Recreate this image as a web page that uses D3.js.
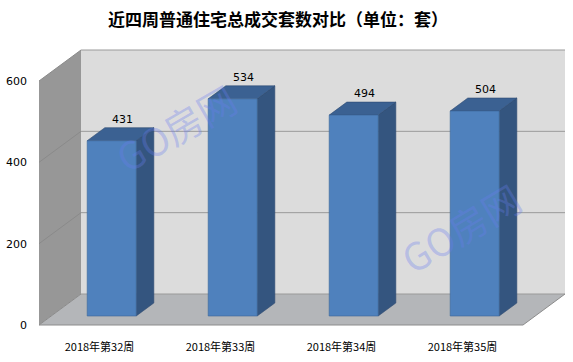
<!DOCTYPE html>
<html>
<head>
<meta charset="utf-8">
<script src="https://cdn.jsdelivr.net/npm/d3@7"></script>
<style>
  body { margin: 0; background: #fff; }
  svg { display: block; }
</style>
</head>
<body>
<svg id="chart"></svg>
<script>
////////////
// DATA
////////////
const weeks = ["2018年第32周", "2018年第33周", "2018年第34周", "2018年第35周"];
const deals = [431, 534, 494, 504];
const yTicks = [0, 200, 400, 600];
const chartTitle = "近四周普通住宅总成交套数对比（单位：套）";

///// Settings
const width = 573, height = 362;
const svg = d3.select("#chart").attr("width", width).attr("height", height);

// back wall of the 3d box, depth vector goes from back to front
const back = { left: 81, right: 565, top: 50, bottom: 294 };
const depth = { dx: -42, dy: 31 };
const barFront = 0.71, barBack = 0.29;

const x = d3.scaleBand().domain(weeks).range([back.left, back.right]).padding(0);
const y = d3.scaleLinear().domain([0, 600]).range([back.bottom, back.top]);
const barW = x.step() * 0.405;

const pt = (px, py, f) => [px + depth.dx * f, py + depth.dy * f];
const poly = pts => "M" + pts.map(p => p.join(",")).join("L") + "Z";

////////////
// TITLE
////////////
svg.append("text")
    .attr("x", 278).attr("y", 26)
    .attr("text-anchor", "middle")
    .style("font-family", "'Noto Sans CJK SC', sans-serif")
    .style("font-size", "17px")
    .style("font-weight", "bold")
    .attr("fill", "#000")
    .text(chartTitle);

////////////
// WALLS
////////////
svg.append("path")
    .attr("d", poly([[back.left, back.top], [back.right, back.top], [back.right, back.bottom], [back.left, back.bottom]]))
    .attr("fill", "#dcdcdc");

svg.append("path")
    .attr("d", poly([pt(back.left, back.top, 1), [back.left, back.top], [back.left, back.bottom], pt(back.left, back.bottom, 1)]))
    .attr("fill", "#979797");

svg.append("path")
    .attr("d", poly([[back.left, back.bottom], [back.right, back.bottom], pt(back.right, back.bottom, 1), pt(back.left, back.bottom, 1)]))
    .attr("fill", "#b4b6b9");

// gridlines on the back wall and the left wall
yTicks.forEach(v => {
    const gy = y(v);
    svg.append("line")
        .attr("x1", back.left).attr("x2", back.right)
        .attr("y1", gy).attr("y2", gy)
        .attr("stroke", "#9a9a9a").attr("stroke-width", 1);
    const f = pt(back.left, gy, 1);
    svg.append("line")
        .attr("x1", back.left).attr("y1", gy)
        .attr("x2", f[0]).attr("y2", f[1])
        .attr("stroke", "#8a8a8a").attr("stroke-width", 1);
});

// front edge of the floor
const fl = pt(back.left, back.bottom, 1), fr = pt(back.right, back.bottom, 1);
svg.append("path")
    .attr("d", "M" + fl.join(",") + "L" + fr.join(",") + "L" + back.right + "," + back.bottom)
    .attr("fill", "none").attr("stroke", "#8c8c8c").attr("stroke-width", 1);

////////////
// BARS
////////////
const bars = svg.append("g");
weeks.forEach((w, i) => {
    const cx = x(w) + x.bandwidth() / 2;
    const l = cx - barW / 2, r = cx + barW / 2;
    const top = y(deals[i]), bot = y(0);
    const fTL = pt(l, top, barFront), fTR = pt(r, top, barFront);
    const fBL = pt(l, bot, barFront), fBR = pt(r, bot, barFront);
    const bTL = pt(l, top, barBack), bTR = pt(r, top, barBack);
    const bBR = pt(r, bot, barBack);

    bars.append("path").attr("d", poly([fTR, bTR, bBR, fBR]))
        .attr("fill", "#34557f").attr("stroke", "#2e4a70").attr("stroke-width", 0.6);
    bars.append("path").attr("d", poly([fTL, bTL, bTR, fTR]))
        .attr("fill", "#3b6192").attr("stroke", "#2e4a70").attr("stroke-width", 0.6);
    bars.append("path").attr("d", poly([fTL, fTR, fBR, fBL]))
        .attr("fill", "#4f81bd").attr("stroke", "#3d6699").attr("stroke-width", 0.6);

    const lab = pt(cx, top, 0.5);
    svg.append("text")
        .attr("x", lab[0] + 2).attr("y", y(deals[i]) + depth.dy * barBack - 5)
        .attr("text-anchor", "middle")
        .style("font-family", "'DejaVu Sans', sans-serif")
        .style("font-size", "11px")
        .attr("fill", "#000")
        .text(deals[i]);
});

////////////
// WATERMARK (drawn over the bars)
////////////
[[177, 130, -30], [462, 230, -31]].forEach(p => {
    svg.append("text")
        .attr("transform", `translate(${p[0]},${p[1]}) rotate(${p[2]})`)
        .attr("text-anchor", "middle")
        .attr("dy", "0.35em")
        .style("font-family", "'Noto Sans CJK SC', sans-serif")
        .style("font-size", "38px")
        .attr("fill", "rgba(105,125,240,0.32)")
        .text("GO房网");
});

////////////
// AXES LABELS
////////////
yTicks.forEach(v => {
    const p = pt(back.left, y(v), 1);
    svg.append("text")
        .attr("x", 27).attr("y", p[1] + 4)
        .attr("text-anchor", "end")
        .style("font-family", "'DejaVu Sans', sans-serif")
        .style("font-size", "11px")
        .attr("fill", "#000")
        .text(v);
});

weeks.forEach(w => {
    const p = pt(x(w) + x.bandwidth() / 2, back.bottom, 1);
    svg.append("text")
        .attr("x", p[0]).attr("y", 351)
        .attr("text-anchor", "middle")
        .style("font-family", "'Noto Sans CJK SC', sans-serif")
        .style("font-size", "11px")
        .attr("fill", "#000")
        .text(w);
});
</script>
</body>
</html>
